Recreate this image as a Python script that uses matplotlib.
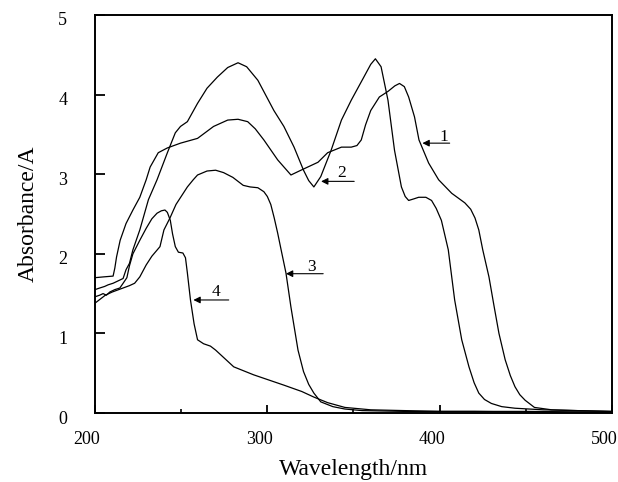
import matplotlib
matplotlib.use("Agg")
import matplotlib.pyplot as plt
import matplotlib.transforms as mtransforms

plt.rcParams['font.family'] = ['Liberation Serif', 'DejaVu Serif']

# curve 1: broad band ~283 nm, peak ~377 nm
x1 = [200, 205, 210.5, 211.5, 212.5, 214.6, 218, 222, 226, 229.7, 232, 236.7, 242, 249.6,
      259.5, 268.8, 277, 283, 288.6, 293, 298, 306, 313.7, 319.5, 329.4, 335, 343, 348.7,
      352, 354.5, 357, 360, 365, 370, 374, 376.7, 379.5, 382, 385.4, 388, 393.6, 399.4, 407,
      414.6, 418, 420.5, 422.7, 425, 428.6, 431.5, 434.4, 438, 441, 443.7, 446.5, 449.6,
      455, 465, 480, 500]
y1 = [1.70, 1.71, 1.72, 1.82, 1.96, 2.17, 2.38, 2.55, 2.71, 2.93, 3.09, 3.27, 3.33, 3.39,
      3.45, 3.60, 3.68, 3.69, 3.66, 3.57, 3.43, 3.18, 2.99, 3.05, 3.15, 3.27, 3.34, 3.34,
      3.36, 3.43, 3.62, 3.80, 3.97, 4.04, 4.11, 4.14, 4.10, 3.97, 3.72, 3.43, 3.14, 2.93,
      2.76, 2.64, 2.56, 2.45, 2.30, 2.05, 1.71, 1.35, 1.00, 0.67, 0.47, 0.33, 0.23, 0.16,
      0.07, 0.04, 0.03, 0.02]

# curve 2: peaks ~283 nm and ~363 nm
x2 = [200, 202.7, 205.6, 207.6, 210.5, 214.4, 216.3, 218, 220, 222, 226, 231, 236, 242,
      246.6, 249.6, 253.6, 259.5, 265, 271, 277, 283, 288, 294.5, 303.8, 309.6, 315.5, 321,
      324, 327, 331, 337, 343, 348.7, 356, 360, 362.7, 366, 370, 373.8, 377.8, 380, 382,
      385, 387.8, 392, 395.3, 398, 401, 405, 408.7, 412.8, 417, 420, 422.7, 426, 430, 436,
      443.7, 460, 480, 500]
y2 = [1.55, 1.57, 1.59, 1.61, 1.63, 1.67, 1.69, 1.80, 1.88, 2.05, 2.30, 2.68, 2.93, 3.27,
      3.52, 3.60, 3.66, 3.89, 4.08, 4.22, 4.34, 4.40, 4.35, 4.18, 3.80, 3.60, 3.34, 3.05,
      2.92, 2.84, 2.97, 3.30, 3.68, 3.93, 4.22, 4.38, 4.45, 4.35, 3.93, 3.30, 2.84, 2.72,
      2.67, 2.69, 2.71, 2.71, 2.67, 2.57, 2.42, 2.05, 1.42, 0.92, 0.58, 0.38, 0.25, 0.17,
      0.12, 0.08, 0.06, 0.04, 0.03, 0.02]

# curve 3: band ~270 nm
x3 = [200, 203, 206, 210, 215, 220, 223, 226, 229.7, 233, 237.7, 240, 243.5, 247, 250,
      253.6, 257, 259.5, 265, 270, 274.6, 280, 286, 290, 294.5, 298, 300, 302, 304, 306,
      308, 310.8, 313.7, 317.8, 321, 324, 327, 331, 338, 345, 355, 380, 420, 460, 500]
y3 = [1.38, 1.43, 1.48, 1.52, 1.56, 1.60, 1.63, 1.71, 1.86, 1.97, 2.09, 2.30, 2.45, 2.62,
      2.72, 2.84, 2.93, 2.99, 3.04, 3.05, 3.02, 2.96, 2.86, 2.84, 2.83, 2.78, 2.72, 2.62,
      2.45, 2.26, 2.05, 1.76, 1.33, 0.79, 0.52, 0.36, 0.25, 0.14, 0.08, 0.05, 0.03, 0.02,
      0.02, 0.01, 0.01]

# curve 4: band ~241 nm
x4 = [200, 202.7, 204.7, 206.6, 208.6, 211.5, 214.4, 216, 218.5, 220, 222, 226, 229.7,
      233, 236, 238.5, 240.6, 242, 243.7, 245, 246.6, 248.4, 251, 252.5, 253.6, 255.4,
      257.5, 259.5, 263, 267, 270, 273, 280.5, 292, 309.6, 320, 327, 335, 345, 360, 400,
      450, 500]
y4 = [1.46, 1.48, 1.50, 1.48, 1.52, 1.55, 1.57, 1.62, 1.70, 1.85, 2.00, 2.17, 2.32, 2.44,
      2.51, 2.54, 2.55, 2.52, 2.42, 2.25, 2.09, 2.02, 2.01, 1.95, 1.76, 1.42, 1.12, 0.92,
      0.87, 0.84, 0.79, 0.73, 0.58, 0.48, 0.35, 0.27, 0.20, 0.13, 0.07, 0.04, 0.02, 0.02,
      0.01]

curves = [(x1, y1), (x2, y2), (x3, y3), (x4, y4)]

# curve labels: text, arrow tip, arrow tail, text position
labels = ['1', '2', '3', '4']
tips = [(390, 3.39), (331.2, 2.91), (310.8, 1.75), (257.1, 1.42)]
tails = [(405.8, 3.39), (350.4, 2.91), (332.4, 1.75), (277.6, 1.42)]
text_pos = [(402.6, 3.42), (342.9, 2.97), (325.4, 1.79), (270, 1.47)]

xticks = [200, 300, 400, 500]
xminor = [250, 350, 450]
yticks = [0, 1, 2, 3, 4, 5]

fig = plt.figure(figsize=(6.18, 4.82), dpi=100)
ax = fig.add_axes([95/618, 1 - 413/482, (612-95)/618, (413-15)/482])

for xs, ys in curves:
    ax.plot(xs, ys, color='black', lw=0.9)

for lab, tip, tail, tp in zip(labels, tips, tails, text_pos):
    ax.annotate('', xy=tip, xytext=tail,
                arrowprops=dict(arrowstyle='-|>', color='black', lw=0.8,
                                mutation_scale=10, shrinkA=0, shrinkB=0))
    ax.text(tp[0], tp[1], lab, ha='center', va='baseline', fontsize=12.5)

ax.set_xlim(200, 500)
ax.set_ylim(0, 5)
ax.set_xticks(xticks)
ax.set_xticks(xminor, minor=True)
ax.set_yticks(yticks)

ax.tick_params(axis='both', which='major', direction='in', width=1.3, labelsize=13)
ax.tick_params(axis='x', which='major', length=6, pad=13)
ax.tick_params(axis='x', which='minor', direction='in', length=3, width=1.2)
ax.tick_params(axis='y', which='major', length=7, pad=20)

for s in ax.spines.values():
    s.set_linewidth(1.4)

# labels sit slightly off their ticks in the original
xoff = mtransforms.ScaledTranslation(-8/100, 0, fig.dpi_scale_trans)
for t in ax.get_xticklabels():
    t.set_transform(t.get_transform() + xoff)
yoff = mtransforms.ScaledTranslation(0, -4/100, fig.dpi_scale_trans)
for t in ax.get_yticklabels():
    t.set_transform(t.get_transform() + yoff)

ax.set_xlabel('Wavelength/nm', fontsize=17, labelpad=8)
ax.set_ylabel('Absorbance/A', fontsize=17, labelpad=14)

fig.savefig('out.png', dpi=100)
